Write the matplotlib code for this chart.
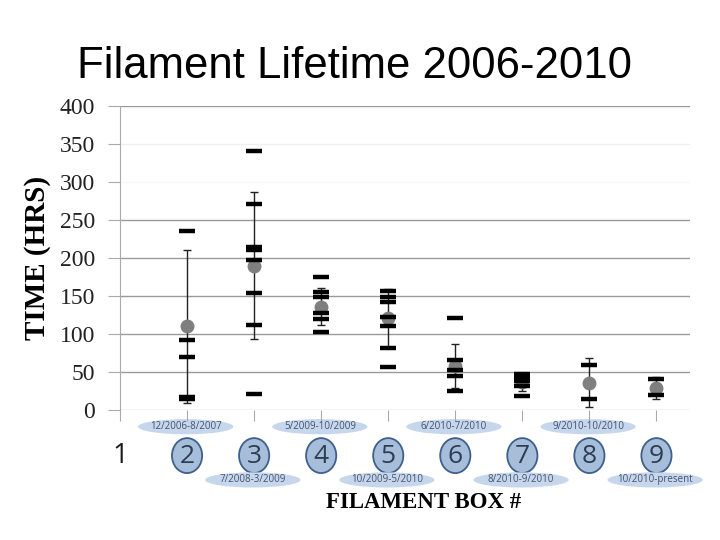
"""Filament lifetime per filament box, 2006-2010."""

import matplotlib

matplotlib.use("Agg")
import matplotlib.pyplot as plt
from matplotlib.patches import Ellipse
from matplotlib.transforms import blended_transform_factory


# filament boxes 2..9 (box 1 has no data)
boxes = [2, 3, 4, 5, 6, 7, 8, 9]
lifetimes = [
    [235, 92, 70, 17, 14],
    [341, 271, 215, 211, 197, 154, 112, 21],
    [175, 155, 149, 127, 120, 103],
    [157, 149, 142, 122, 111, 82, 57],
    [121, 66, 53, 45, 25],
    [48, 43, 38, 32, 18],
    [59, 14],
    [41, 20],
]
mean_hrs = [110, 190, 136, 121, 58, 37, 36, 29]
std_hrs = [101, 97, 24, 38, 29, 12, 32, 14]
date_ranges = [
    "12/2006-8/2007",
    "7/2008-3/2009",
    "5/2009-10/2009",
    "10/2009-5/2010",
    "6/2010-7/2010",
    "8/2010-9/2010",
    "9/2010-10/2010",
    "10/2010-present",
]
y_ticks = [0, 50, 100, 150, 200, 250, 300, 350, 400]
grid_colors = ["#c8c8c8", "#9a9a9a", "#9a9a9a", "#9a9a9a", "#9a9a9a", "#9a9a9a",
               "#f7f7f7", "#f0f0f0", "#9a9a9a"]

fig = plt.figure(figsize=(7.2, 5.4), dpi=100)
ax = fig.add_axes([120 / 720, 130 / 540, 570 / 720, 304 / 540])

for level, color in zip(y_ticks, grid_colors):
    ax.axhline(level, color=color, linewidth=1.0, zorder=0)

ax.errorbar(boxes, mean_hrs, yerr=std_hrs, fmt="none", ecolor="#222222",
            elinewidth=1.0, capsize=3, capthick=1.0, zorder=2)
ax.plot(boxes, mean_hrs, "o", color="#7f7f7f", markersize=9, zorder=3)
for box, vals in zip(boxes, lifetimes):
    ax.plot([box] * len(vals), vals, "_", color="black", markersize=12,
            markeredgewidth=3.2, zorder=4, linestyle="none")

ax.set_xlim(1, 9.5)
ax.set_ylim(0, 400)
ax.set_yticks(y_ticks)
ax.set_yticklabels([str(v) for v in y_ticks], family="Liberation Serif",
                   fontsize=17, color="#222222")
ax.set_xticks([1] + boxes)
ax.set_xticklabels([])
ax.tick_params(axis="y", length=9, color="#aaaaaa", pad=9)
ax.tick_params(axis="x", length=8, color="#aaaaaa", direction="out")
for side in ["top", "right", "bottom"]:
    ax.spines[side].set_visible(False)
ax.spines["left"].set_color("#aaaaaa")
ax.set_ylabel("TIME (HRS)", family="Liberation Serif", fontweight="bold",
              fontsize=21, labelpad=6)

# category labels: plain "1", then circled box numbers with date ovals
trans = blended_transform_factory(ax.transData, ax.transAxes)
ax.text(1, -0.15, "1", transform=trans, ha="center", va="center",
        fontsize=20, family="Open Sans", color="#1a1a1a")
for i, (box, dates) in enumerate(zip(boxes, date_ranges)):
    ax.add_patch(Ellipse((box, -0.15), 0.45, 0.115, transform=trans,
                         facecolor="#a7bedb", edgecolor="#3f5f8c",
                         linewidth=1.3, clip_on=False))
    ax.text(box, -0.152, str(box), transform=trans, ha="center", va="center",
            fontsize=19, family="Open Sans", color="#2c3e55")
    y_oval = -0.055 if i % 2 == 0 else -0.23
    ax.add_patch(Ellipse((box - 0.02, y_oval), 1.42, 0.05, transform=trans,
                         facecolor="#c6d6ec", edgecolor="none", clip_on=False))
    ax.text(box - 0.02, y_oval, dates, transform=trans, ha="center",
            va="center", fontsize=7, family="Open Sans", color="#44536a")

fig.text(424 / 720, 1 - 503 / 540, "FILAMENT BOX #", ha="center",
         va="center", family="Liberation Serif", fontweight="bold",
         fontsize=16.5)
fig.text(77 / 720, 1 - 66 / 540, "Filament Lifetime 2006-2010", ha="left",
         va="center", family="Liberation Sans", fontsize=31.5)

fig.savefig("out.png", dpi=100)
